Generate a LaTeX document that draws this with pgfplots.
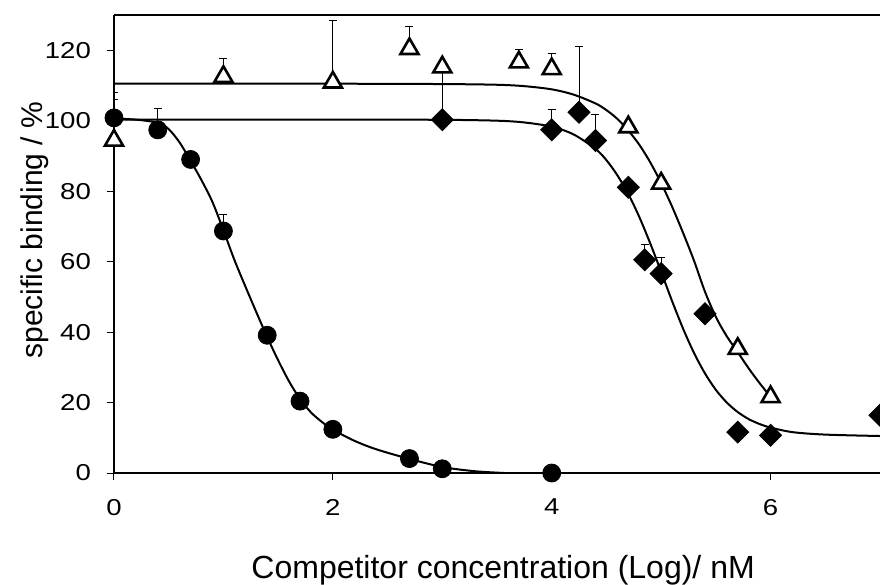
\documentclass[border=0pt]{standalone}
\usepackage{fontspec}
\setmainfont{Liberation Sans}
\newfontfamily\tickfont[FakeStretch=1.2]{Liberation Sans}
\usepackage{pgfplots}
\pgfplotsset{compat=1.18}
\usetikzlibrary{calc}
\begin{document}
\begin{tikzpicture}
\begin{axis}[name=ax, scale only axis, width=383pt, height=229pt,
  xmin=0, xmax=7, ymin=0, ymax=130,
  axis x line*=box, axis y line*=left,
  xtick={0,2,4,6}, ytick={0,20,...,120},
  tick align=outside, xtick pos=bottom, ytick pos=left,
  major tick length=3.5pt,
  every tick/.style={black, line width=0.5pt},
  axis line style={line width=0.75pt},
  ticklabel style={font=\tickfont\fontsize{11.5}{14}\selectfont},
  xticklabel style={yshift=-6pt},
  yticklabel style={xshift=-4.5pt},
  /pgf/number format/assume math mode=true,
  xlabel={Competitor concentration (Log)/ nM},
  ylabel={specific binding / \%},
  xlabel style={font=\fontsize{16}{19}\selectfont, at={(axis description cs:0.508,-0.212)}, anchor=center},
  ylabel style={font=\fontsize{15}{18}\selectfont, at={(axis description cs:-0.103,0.53)}, anchor=center},
]
% error bars (circles)
\addplot[only marks, mark=none, black, forget plot,
  error bars/.cd, y dir=plus, y explicit,
  error bar style={black, line width=0.5pt},
  error mark options={rotate=90, mark size=2pt, line width=0.5pt, black}]
  coordinates {(0,100.8) +- (0,7.3) (0.4,97.4) +- (0,6.2) (1,68.7) +- (0,4.7)};
% error bars (diamonds)
\addplot[only marks, mark=none, black, forget plot,
  error bars/.cd, y dir=plus, y explicit,
  error bar style={black, line width=0.5pt},
  error mark options={rotate=90, mark size=2pt, line width=0.5pt, black}]
  coordinates {(3,100.3) +- (0,14.9) (4,97.4) +- (0,5.8) (4.25,102.4) +- (0,18.7)
    (4.4,94.4) +- (0,7.3) (4.85,60.5) +- (0,4.4) (5,56.6) +- (0,4.7)};
% error bars (triangles)
\addplot[only marks, mark=none, black, forget plot,
  error bars/.cd, y dir=plus, y explicit,
  error bar style={black, line width=0.5pt},
  error mark options={rotate=90, mark size=2pt, line width=0.5pt, black}]
  coordinates {(0,94.4) +- (0,11.5) (1,112.5) +- (0,5.1) (2,110.9) +- (0,17.5)
    (2.7,120.4) +- (0,6.4) (3.7,116.6) +- (0,3.5) (4,114.7) +- (0,4.3)};
% fitted curves
\addplot[black, line width=1pt, smooth, no marks] coordinates {
  (0,100.6) (0.2,100.3) (0.4,99.4) (0.5,97.6) (0.6,93.8) (0.7,88.6) (0.8,83.1)
  (0.9,76.9) (1.0,68.9) (1.1,60.5) (1.2,53.0) (1.3,45.7) (1.4,38.6) (1.5,32.0)
  (1.6,26.0) (1.7,21.0) (1.8,17.2) (1.9,14.5) (2.0,12.3) (2.2,9.1) (2.4,6.7)
  (2.7,4.0) (3.0,1.7) (3.3,0.5) (3.57,0)};
\addplot[black, line width=1pt, smooth, no marks] coordinates {
  (0,110.5) (1,110.5) (2,110.5) (3.0,110.4) (3.5,110.2) (3.75,109.8) (4.0,108.9)
  (4.2,107.4) (4.4,104.9) (4.5,103.0) (4.6,100.5) (4.7,97.2) (4.8,93.2) (4.9,88.2)
  (5.0,82.3) (5.1,75.6) (5.2,68.2) (5.3,60.3) (5.4,51.5) (5.5,44.3) (5.6,38.8)
  (5.7,34.3) (5.8,29.7) (5.9,25.5) (6.0,21.6)};
\addplot[black, line width=1pt, smooth, no marks] coordinates {
  (0,100.3) (1,100.3) (2,100.3) (3.0,100.25) (3.5,100.0) (3.75,99.5) (4.0,98.3)
  (4.2,96.1) (4.4,92.0) (4.5,88.8) (4.6,84.5) (4.7,79.2) (4.8,72.7) (4.9,65.2)
  (5.0,57.1) (5.1,48.8) (5.2,41.0) (5.3,34.1) (5.4,28.3) (5.5,23.6) (5.6,20.0)
  (5.7,17.3) (5.8,15.3) (5.9,13.9) (6.0,12.9) (6.2,11.6) (6.5,10.9) (7.0,10.5)};
% markers
\addplot[only marks, mark=*, mark size=4.5pt, black] coordinates {
  (0,100.8) (0.4,97.4) (0.7,89.0) (1,68.7) (1.4,39.1) (1.7,20.4) (2,12.4)
  (2.7,4.1) (3,1.2) (4,0)};
\addplot[only marks, mark=square*, mark size=3.9pt, black, mark options={rotate=45}] coordinates {
  (3,100.3) (4,97.4) (4.25,102.4) (4.4,94.4) (4.7,81.1) (4.85,60.5) (5,56.6)
  (5.4,45.2) (5.7,11.6) (6,10.7) (7,16.4)};
\addplot[only marks, mark=triangle*, mark size=5.2pt, black,
  mark options={fill=white, line width=1.3pt}] coordinates {
  (0,94.4) (1,112.5) (2,110.9) (2.7,120.4) (3,115.2) (3.7,116.6) (4,114.7)
  (4.7,98.2) (5,82.2) (5.7,35.3) (6,21.6)};
\end{axis}
\pgfresetboundingbox
\path[use as bounding box] ($(ax.south west)+(-57pt,-55.5pt)$) rectangle ($(ax.north east)+(0pt,7.5pt)$);
\end{tikzpicture}
\end{document}
